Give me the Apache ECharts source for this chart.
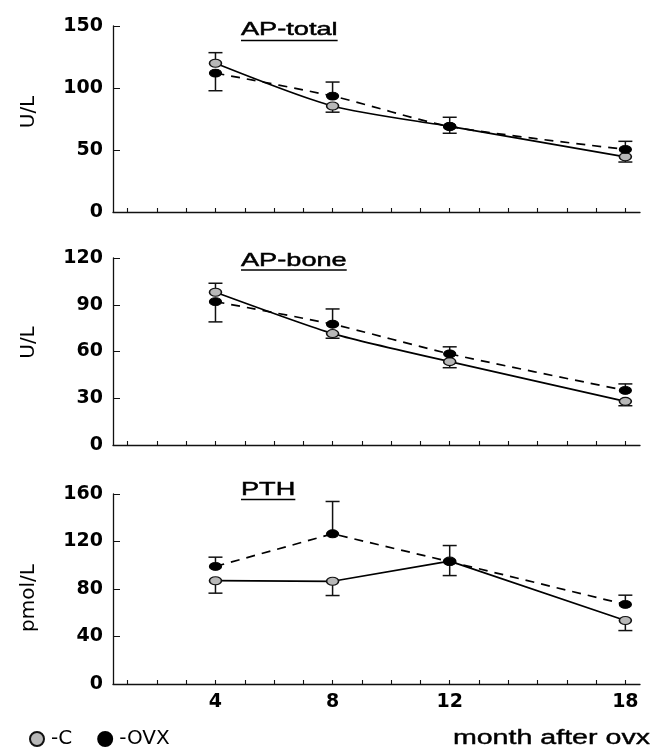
<!DOCTYPE html>
<html>
<head>
<meta charset="utf-8">
<script src="https://cdn.jsdelivr.net/npm/echarts@6.0.0/dist/echarts.min.js"></script>
<style>
html,body{margin:0;padding:0;background:#fff;}
#chart{width:653px;height:747px;}
</style>
</head>
<body>
<div id="chart"></div>
<script>
// ---- data ----
const months = [4, 8, 12, 18];
const monthTicks = [1, 2, 3, 4, 5, 6, 7, 8, 9, 10, 11, 12, 13, 14, 15, 16, 17, 18];
const monthLabels = [4, 8, 12, 18];

const panelTitles = ['AP-total', 'AP-bone', 'PTH'];
const panelUnits = ['U/L', 'U/L', 'pmol/L'];
const yMax = [150, 120, 160];
const yStep = [50, 30, 40];

// AP-total
const apTotalC = [120, 85.5, 69, 44.5];
const apTotalCErr = [128.5, 80.5, 63.5, 40.3];
const apTotalOVX = [112, 93.5, 69, 50.5];
const apTotalOVXErr = [97.8, 104.8, 76.4, 57];

// AP-bone
const apBoneC = [98, 71.5, 53.5, 28];
const apBoneCErr = [103.8, 68.5, 49.6, 25.2];
const apBoneOVX = [92, 77.5, 58.5, 35];
const apBoneOVXErr = [79, 87.3, 63, 39.2];

// PTH
const pthC = [87, 86.5, 103.5, 53.5];
const pthCErr = [76.5, 74.5, 91.3, 45];
const pthOVX = [99, 126.5, 103, 67];
const pthOVXErr = [106.8, 153.7, 116.6, 74.8];

const panels = [
  {c: apTotalC, cErr: apTotalCErr, o: apTotalOVX, oErr: apTotalOVXErr, smooth: 0.25},
  {c: apBoneC, cErr: apBoneCErr, o: apBoneOVX, oErr: apBoneOVXErr, smooth: 0.2},
  {c: pthC, cErr: pthCErr, o: pthOVX, oErr: pthOVXErr, smooth: false}
];

// ---- layout / style ----
const FONT = 'DejaVu Sans';
const TFONT = 'Liberation Sans';
const STRETCH = 1.43;
const grids = [
  {left: 113, right: 13, top: 26, height: 186},
  {left: 113, right: 13, top: 258, height: 187},
  {left: 113, right: 13, top: 494, height: 190}
];
const titleY = [30, 260.5, 489.5];
const underlineY = [40.5, 270, 499.5];
const namePadding = [[0, 0, 0, 14], [0, 0, 0, 18], [0, 18, 0, 0]];

function errRender(params, api) {
  const x = api.value(0), v = api.value(1), e = api.value(2);
  const p1 = api.coord([x, v]);
  const p2 = api.coord([x, e]);
  const hw = 7;
  const st = {stroke: '#111', lineWidth: 1.5};
  return {
    type: 'group',
    children: [
      {type: 'line', shape: {x1: p1[0], y1: p1[1], x2: p2[0], y2: p2[1]}, style: st},
      {type: 'line', shape: {x1: p2[0] - hw, y1: p2[1], x2: p2[0] + hw, y2: p2[1]}, style: st}
    ]
  };
}

const xAxes = grids.map((g, i) => ({
  gridIndex: i, type: 'value', min: 0.5, max: 18.5,
  axisLine: {show: true, lineStyle: {color: '#111', width: 1.3}},
  axisTick: {show: true, inside: true, length: 4, customValues: monthTicks, lineStyle: {color: '#111', width: 1.1}},
  axisLabel: {show: i === 2, customValues: monthLabels, margin: 9, fontSize: 19, fontWeight: 'bold', color: '#000', fontFamily: FONT},
  splitLine: {show: false}
}));

const yAxes = grids.map((g, i) => ({
  gridIndex: i, type: 'value', min: 0, max: yMax[i], interval: yStep[i],
  axisLine: {show: true, lineStyle: {color: '#111', width: 1.3}},
  axisTick: {show: true, inside: true, length: 7, lineStyle: {color: '#111', width: 1}},
  axisLabel: {margin: 10, fontSize: 19, fontWeight: 'bold', color: '#000', fontFamily: FONT},
  splitLine: {show: false},
  name: panelUnits[i], nameLocation: 'middle', nameGap: 74,
  nameTextStyle: {fontSize: 20, color: '#000', fontFamily: FONT, padding: namePadding[i]}
}));

const series = [];
panels.forEach((p, i) => {
  series.push({
    type: 'custom', name: 'errC' + i, xAxisIndex: i, yAxisIndex: i, silent: true, z: 1,
    renderItem: errRender, encode: {x: 0, y: [1, 2]},
    data: months.map((m, k) => [m, p.c[k], p.cErr[k]])
  });
  series.push({
    type: 'custom', name: 'errO' + i, xAxisIndex: i, yAxisIndex: i, silent: true, z: 1,
    renderItem: errRender, encode: {x: 0, y: [1, 2]},
    data: months.map((m, k) => [m, p.o[k], p.oErr[k]])
  });
  series.push({
    type: 'line', name: 'C', xAxisIndex: i, yAxisIndex: i, z: 3,
    data: months.map((m, k) => [m, p.c[k]]),
    smooth: p.smooth, symbol: 'circle', symbolSize: [12, 8], showSymbol: true,
    lineStyle: {color: '#000', width: 1.7},
    itemStyle: {color: '#b8b8b8', borderColor: '#111', borderWidth: 1.3}
  });
  series.push({
    type: 'line', name: 'OVX', xAxisIndex: i, yAxisIndex: i, z: 4,
    data: months.map((m, k) => [m, p.o[k]]),
    smooth: p.smooth, symbol: 'circle', symbolSize: [12, 8], showSymbol: true,
    lineStyle: {color: '#000', width: 1.7, type: [9, 7]},
    itemStyle: {color: '#000', borderColor: '#000', borderWidth: 1}
  });
});

// measure text for underlines
const ctx = document.createElement('canvas').getContext('2d');
ctx.font = '19px "' + TFONT + '"';
const graphics = [];
panelTitles.forEach((t, i) => {
  const w = ctx.measureText(t).width * STRETCH;
  graphics.push({type: 'text', x: 241, y: titleY[i], scaleX: STRETCH,
    style: {text: t, x: 0, y: 0, fontSize: 19, fontFamily: TFONT, fill: '#000', stroke: '#000', lineWidth: 0.5,
      verticalAlign: 'middle', align: 'left'}});
  graphics.push({type: 'line', shape: {x1: 241, y1: underlineY[i], x2: 241 + w, y2: underlineY[i]}, style: {stroke: '#000', lineWidth: 1.6}});
});
graphics.push({type: 'text', x: 650, y: 738, scaleX: STRETCH,
  style: {text: 'month after ovx', x: 0, y: 0, fontSize: 20, fontFamily: TFONT, fill: '#000', stroke: '#000', lineWidth: 0.4,
    align: 'right', verticalAlign: 'middle'}});

const option = {
  animation: false,
  backgroundColor: '#fff',
  grid: grids,
  xAxis: xAxes,
  yAxis: yAxes,
  series: series,
  legend: {
    data: [{name: 'C', icon: 'circle'}, {name: 'OVX', icon: 'circle'}],
    left: 29, top: 729, itemWidth: 14, itemHeight: 14, itemGap: 25, padding: 0,
    formatter: n => '-' + n,
    textStyle: {fontSize: 20, fontFamily: FONT, color: '#000', padding: [0, 0, 0, 2]},
    selectedMode: false
  },
  graphic: graphics
};

const chart = echarts.init(document.getElementById('chart'), null, {renderer: 'canvas'});
chart.setOption(option);
</script>
</body>
</html>
